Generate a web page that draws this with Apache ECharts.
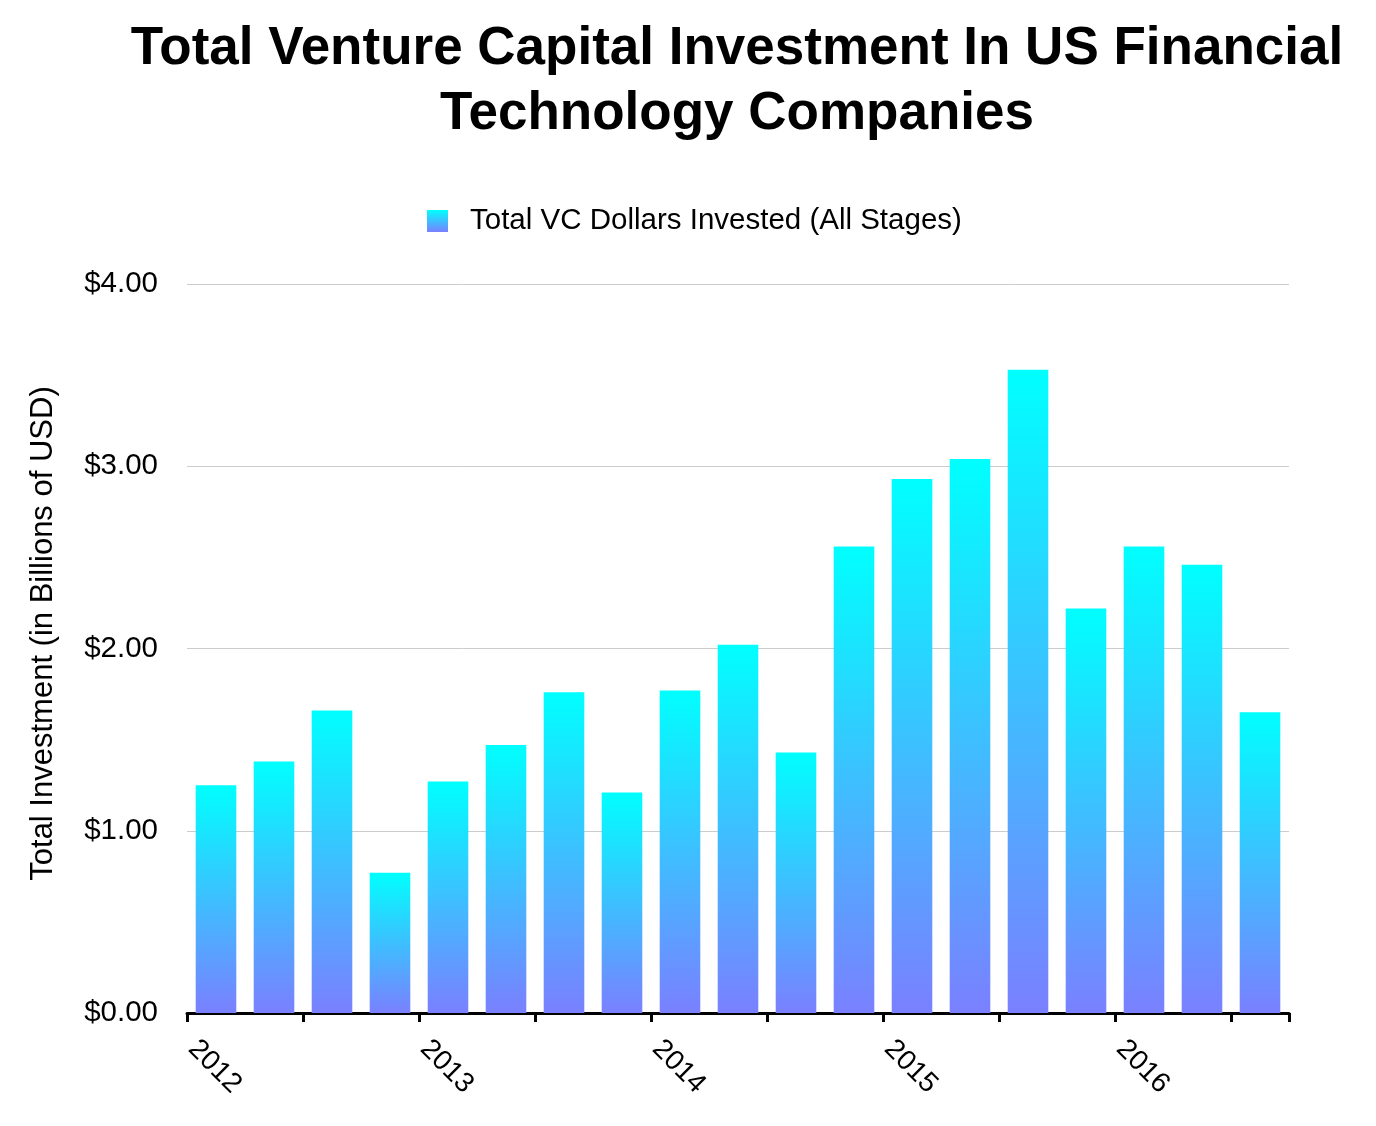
<!DOCTYPE html>
<html><head><meta charset="utf-8">
<script src="https://cdn.jsdelivr.net/npm/echarts@6/dist/echarts.min.js"></script>
<style>html,body{margin:0;padding:0;background:#fff}#c{width:1376px;height:1126px}</style>
</head><body><div id="c"></div>
<script>
const quarters = ['2012 Q1','2012 Q2','2012 Q3','2012 Q4','2013 Q1','2013 Q2','2013 Q3','2013 Q4','2014 Q1','2014 Q2','2014 Q3','2014 Q4','2015 Q1','2015 Q2','2015 Q3','2015 Q4','2016 Q1','2016 Q2','2016 Q3'];
const values = [1.25,1.38,1.66,0.77,1.27,1.47,1.76,1.21,1.77,2.02,1.43,2.56,2.93,3.04,3.53,2.22,2.56,2.46,1.65];
const yearLabels = ['2012','2013','2014','2015','2016'];
const yTicks = [0,1,2,3,4];

const grad = new echarts.graphic.LinearGradient(0,0,0,1,[{offset:0,color:'#00FFFF'},{offset:1,color:'#7A80FF'}]);
const font = 'Helvetica, "Liberation Sans", Arial, sans-serif';
const chart = echarts.init(document.getElementById('c'), null, {renderer:'canvas'});
chart.setOption({
  backgroundColor:'#fff',
  animation:false,
  title:{text:'Total Venture Capital Investment In US Financial\nTechnology Companies',left:732,top:12,
    textAlign:'center',
    textStyle:{fontFamily:font,fontWeight:'bold',fontSize:53,lineHeight:65,color:'#000'}},
  legend:{top:201,left:422,itemWidth:21,itemHeight:22,itemGap:10,
    textStyle:{fontFamily:font,fontSize:29.5,color:'#000',padding:[0,0,0,17]},data:[{name:'Total VC Dollars Invested (All Stages)',icon:'rect'}]},
  grid:{left:187,right:87,top:284,bottom:113,containLabel:false},
  xAxis:[{
    type:'category',data:quarters,boundaryGap:true,
    axisLine:{lineStyle:{color:'#000',width:3}},
    axisTick:{show:true,length:9,lineStyle:{color:'#000',width:3}},
    axisLabel:{show:false}
  },{
    type:'value',min:0,max:quarters.length,interval:4,position:'bottom',
    axisLine:{show:false},axisTick:{show:false},splitLine:{show:false},
    axisLabel:{rotate:-45,margin:26,padding:[0,0,0,8],showMaxLabel:false,fontFamily:font,fontSize:28,color:'#000',
      formatter:function(v){const i=Math.round(v/4);return (v%4===0 && i<yearLabels.length)?yearLabels[i]:'';}}
  }],
  yAxis:{type:'value',min:0,max:4,interval:1,
    name:'Total Investment (in Billions of USD)',nameLocation:'middle',nameGap:128,
    nameTextStyle:{fontFamily:font,fontSize:31,color:'#000',padding:[0,0,0,30]},
    axisLine:{show:false},axisTick:{show:false},
    splitLine:{lineStyle:{color:'#CCCCCC',width:1}},
    axisLabel:{margin:29,fontFamily:font,fontSize:29.5,color:'#000',formatter:function(v){return '$'+v.toFixed(2);}}
  },
  series:[{name:'Total VC Dollars Invested (All Stages)',type:'bar',xAxisIndex:0,data:values,barWidth:'70%',
    itemStyle:{color:grad}}]
});
</script></body></html>
